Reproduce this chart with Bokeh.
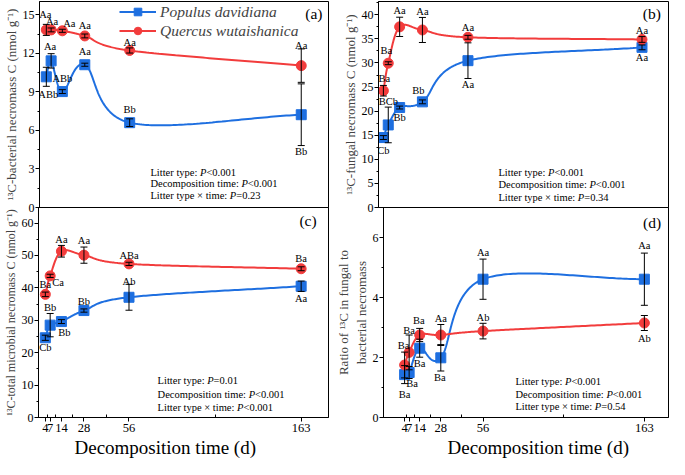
import numpy as np
from bokeh.plotting import figure
from bokeh.layouts import row, column
from bokeh.models import (Range1d, FixedTicker, SingleIntervalTicker, Whisker, TeeHead,
                          ColumnDataSource, Label, Legend, LegendItem, Title)
from bokeh.core.properties import value
from bokeh.embed import file_html
from bokeh.resources import INLINE

# ---------------- data ----------------
days = [4, 7, 14, 28, 56, 163]
tick_labels = ["4", "7", "14", "28", "56", "163"]
minor_days = [5.5, 10.5, 21, 42, 109.5]
series_names = ["Populus davidiana", "Quercus wutaishanica"]

# (a) 13C-bacterial necromass C
bact_pd = [10.17, 11.41, 9.02, 11.11, 6.60, 7.22]
bact_pd_se = [0.74, 0.56, 0.15, 0.12, 0.30, 2.40]
bact_qw = [13.82, 13.82, 13.75, 13.35, 12.22, 11.04]
bact_qw_se = [0.43, 0.15, 0.12, 0.15, 0.20, 1.30]
bact_pd_sig = ["ABb", "Aa", "ABb", "Aa", "Bb", "Bb"]
bact_qw_sig = ["Aa", "Aa", "Aa", "Aa", "Aa", "Aa"]
bact_stats = ["<0.001", "<0.001", "=0.23"]

# (b) 13C-fungal necromass C
fung_pd = [14.52, 17.14, 20.75, 21.93, 30.48, 33.24]
fung_pd_se = [0.40, 3.70, 0.30, 0.40, 3.70, 0.50]
fung_qw = [24.24, 29.95, 37.50, 36.85, 35.33, 34.88]
fung_qw_se = [1.10, 0.30, 2.00, 2.60, 0.40, 0.60]
fung_pd_sig = ["Cb", "BCb", "Bb", "Bb", "Aa", "Aa"]
fung_qw_sig = ["Ba", "Ba", "Aa", "Aa", "Aa", "Aa"]
fung_stats = ["<0.001", "<0.001", "=0.34"]

# (c) 13C-total microbial necromass C
tot_pd = [24.6, 28.5, 29.6, 33.0, 37.1, 40.5]
tot_pd_se = [0.8, 3.6, 0.6, 0.5, 4.0, 1.6]
tot_qw = [38.0, 43.7, 51.3, 50.1, 47.4, 45.9]
tot_qw_se = [0.7, 0.5, 1.8, 2.5, 0.5, 0.6]
tot_pd_sig = ["Cb", "Bb", "Bb", "Bb", "Ab", "Aa"]
tot_qw_sig = ["Ba", "Ca", "Aa", "Aa", "ABa", "Ba"]
tot_stats = ["=0.01", "<0.001", "<0.001"]

# (d) ratio fungal : bacterial
ratio_pd = [1.43, 1.50, 2.31, 1.99, 4.61, 4.61]
ratio_pd_se = [0.30, 0.20, 0.30, 0.44, 0.67, 0.87]
ratio_qw = [1.75, 2.17, 2.75, 2.75, 2.88, 3.15]
ratio_qw_se = [0.43, 0.58, 0.22, 0.35, 0.26, 0.25]
ratio_pd_sig = ["Ba", "Ba", "Ba", "Ba", "Aa", "Aa"]
ratio_qw_sig = ["Ba", "Ba", "Ba", "Aa", "Ab", "Ab"]
ratio_stats = ["<0.001", "<0.001", "=0.54"]

stat_names = ["Litter type: ", "Decomposition time: ", "Litter type \u00d7 time: "]

# ---------------- style / layout ----------------
FONT = "Liberation Serif"
BLUE = "#1e6fe0"
RED = "#f23c3c"

# label offsets (px, reference scale) for significance letters
OFF = {
    "a": ([(2, 19), (-1, -15), (0, -14), (0, -14), (0, -14), (0, 38.5)],
          [(-1, -16), (1, -9), (7, -8), (0, -11), (0, -8), (0, -21.5)]),
    "b": ([(0, 13.4), (0, -25), (0, 10), (-4, -11.7), (0, 25), (0, 11)],
          [(1, -13), (-2, -13), (0, -17), (0, -19), (0, -10.4), (0, -9.3)]),
    "c": ([(0, 9.7), (0, -18), (3, 11.3), (0, -9), (0, -16.3), (0, 12.3)],
          [(0, -10), (8, 7), (0, -11.7), (0, -14.7), (0, -9), (0, -11)]),
    "d": ([(0, 20), (3, 11.7), (0, 16), (-1, 20), (0, -27), (0, -35)],
          [(-1, -20), (0, -23), (-1, -15), (0, -17), (0, -14), (0, 16)]),
}

WID = {" ": 250, ":": 278, "<": 564, "=": 564, ".": 250, "\u00d7": 564,
       "L": 611, "D": 722, "i": 278, "t": 278, "e": 444, "r": 333, "y": 500,
       "p": 500, "c": 444, "o": 500, "m": 778, "s": 389, "n": 500}


def text_w(s, size):
    return sum(WID.get(ch, 500) for ch in s) * size / 1000.0


def catmull_rom(xs_px, ys_px, per=60):
    P = np.column_stack([xs_px, ys_px]).astype(float)
    n = len(P)
    M = np.zeros_like(P)
    M[0] = P[1] - P[0]
    M[-1] = P[-1] - P[-2]
    for i in range(1, n - 1):
        M[i] = (P[i + 1] - P[i - 1]) / 2.0
    out = []
    for i in range(n - 1):
        t = np.linspace(0, 1, per, endpoint=(i == n - 2))[:, None]
        h00 = 2 * t ** 3 - 3 * t ** 2 + 1
        h10 = t ** 3 - 2 * t ** 2 + t
        h01 = -2 * t ** 3 + 3 * t ** 2
        h11 = t ** 3 - t ** 2
        out.append(h00 * P[i] + h10 * M[i] + h01 * P[i + 1] + h11 * M[i + 1])
    out = np.vstack(out)
    return out[:, 0], out[:, 1]


def make_panel(key, pd, pd_se, qw, qw_se, pd_sig, qw_sig, stats, ytitle, ytitle_size,
               width, height, mbl, mbr, mbt, mbb, xr, yr, ytick, ref_frame, bottom,
               stat_pos, letter_pos, xtitle_offset=0, legend=False):
    p = figure(width=width, height=height, output_backend="svg", toolbar_location=None,
               x_range=Range1d(*xr), y_range=Range1d(*yr),
               min_border_left=mbl, min_border_right=mbr, min_border_top=mbt,
               min_border_bottom=mbb, background_fill_color="white",
               border_fill_color="white")
    if bottom:
        # transparent so the "0" label of the panel above stays visible
        p.background_fill_alpha = 0
        p.border_fill_alpha = 0
    p.outline_line_color = "black"
    p.outline_line_width = 1
    p.xgrid.visible = False
    p.ygrid.visible = False

    frame_w = width - mbl - mbr
    frame_h = height - mbt - mbb
    L, R, T, B = ref_frame
    sx = frame_w / (R - L)
    sy = frame_h / (B - T)
    ppx = frame_w / (xr[1] - xr[0])
    ppy = frame_h / (yr[1] - yr[0])

    def at(px, py):
        fx = (px - L) / (R - L)
        fy = (py - T) / (B - T)
        return xr[0] + fx * (xr[1] - xr[0]), yr[1] - fy * (yr[1] - yr[0])

    # y axis
    ya = p.yaxis[0]
    ya.ticker = SingleIntervalTicker(interval=ytick, num_minor_ticks=2)
    ya.axis_label = ytitle
    ya.axis_label_text_font = FONT
    ya.axis_label_text_font_size = ytitle_size
    ya.axis_label_text_font_style = "normal"
    ya.axis_label_standoff = 1
    ya.major_label_text_font = FONT
    ya.major_label_text_font_size = "12px"
    ya.major_label_standoff = 1
    ya.major_tick_out = 4
    ya.major_tick_in = 0
    ya.minor_tick_out = 2
    ya.minor_tick_in = 0
    ya.axis_line_color = "black"
    ya.major_tick_line_color = "black"
    ya.minor_tick_line_color = "black"
    ya.major_label_text_color = "black"

    xa = p.xaxis[0]
    if bottom:
        xa.ticker = FixedTicker(ticks=days, minor_ticks=minor_days)
        xa.major_label_overrides = {d: t for d, t in zip(days, tick_labels)}
        xa.major_label_text_font = FONT
        xa.major_label_text_font_size = "12.5px"
        xa.major_label_text_color = "black"
        xa.major_label_standoff = 2
        xa.major_tick_out = 4
        xa.major_tick_in = 0
        xa.minor_tick_out = 0
        xa.minor_tick_in = 3
        xa.axis_line_color = "black"
        xa.major_tick_line_color = "black"
        xa.minor_tick_line_color = "black"
        p.add_layout(Title(text="Decomposition time (d)", align="left",
                           offset=xtitle_offset, text_font=FONT, text_font_size="19px",
                           text_font_style="normal", text_color="black", standoff=0),
                     "below")
    else:
        xa.visible = False

    rend = {}
    for name, vals, se, sig, color, marker, offs in (
            (series_names[0], pd, pd_se, pd_sig, BLUE, "square", OFF[key][0]),
            (series_names[1], qw, qw_se, qw_sig, RED, "circle", OFF[key][1])):
        # smooth connecting curve computed in screen-proportional space
        cx, cy = catmull_rom([(d - xr[0]) * ppx for d in days],
                             [(v - yr[0]) * ppy for v in vals])
        xs = xr[0] + cx / ppx
        ys = yr[0] + cy / ppy
        ln = p.line(xs, ys, line_color=color, line_width=2)
        sc = p.scatter(days, vals, marker=marker, size=10, fill_color=color,
                       line_color=color)
        rend[name] = [ln, sc]
        src = ColumnDataSource(dict(x=days,
                                    upper=[v + e for v, e in zip(vals, se)],
                                    lower=[v - e for v, e in zip(vals, se)]))
        wh = Whisker(base="x", upper="upper", lower="lower", source=src,
                     line_color="black", line_width=1, level="annotation",
                     upper_head=TeeHead(size=7, line_color="black", line_width=1),
                     lower_head=TeeHead(size=7, line_color="black", line_width=1))
        p.add_layout(wh)
        lsrc = ColumnDataSource(dict(x=days, y=vals, t=sig,
                                     dx=[o[0] * sx for o in offs],
                                     dy=[o[1] * sy for o in offs]))
        p.text(x="x", y="y", text="t", x_offset="dx", y_offset="dy", source=lsrc,
               text_font=value(FONT), text_font_size=value("10.5px"),
               text_align="center", text_baseline="middle", text_color="black")

    # statistics text
    fs = 10.5
    sx0, _ = at(stat_pos[0], stat_pos[1][0])
    for nm, val, py in zip(stat_names, stats, stat_pos[1]):
        _, yy = at(stat_pos[0], py)
        w1 = text_w(nm, fs)
        wp = 611 * fs / 1000.0
        for txt, off, style in ((nm, 0, "normal"), ("P", w1, "italic"), (val, w1 + wp, "normal")):
            p.add_layout(Label(x=sx0, y=yy, x_offset=off, text=txt, text_font=FONT,
                               text_font_size="%spx" % fs, text_font_style=style,
                               text_align="left", text_baseline="middle",
                               text_color="black"))

    # panel letter
    lx, ly = at(*letter_pos)
    p.add_layout(Label(x=lx, y=ly, text="(%s)" % key, text_font=FONT,
                       text_font_size="15.5px", text_align="center",
                       text_baseline="middle", text_color="black"))

    if legend:
        items = [LegendItem(label=n, renderers=rend[n]) for n in series_names]
        lg = Legend(items=items, location=(int(82 * sx), frame_h - 39),
                    label_text_font=FONT, label_text_font_size="15.5px",
                    label_text_font_style="italic", label_height=19,
                    glyph_height=19, glyph_width=37, spacing=0, padding=0, margin=0,
                    label_standoff=4, border_line_alpha=0, background_fill_alpha=0)
        p.add_layout(lg)
    return p


LW, RW = 332, 337
OVER = 6            # top panels keep 6 px below the frame for the "0" label
TH, BH = 207 + OVER, 252

pa = make_panel("a", bact_pd, bact_pd_se, bact_qw, bact_qw_se, bact_pd_sig, bact_qw_sig,
                bact_stats, "\u00b9\u00b3C-bacterial necromass C (nmol g\u207b\u00b9)", "13px",
                LW, TH, 35, 4, 1, OVER, (-0.25, 180), (0, 16.03), 3,
                (36, 333, 0, 217), False, (150, (180, 192, 204)), (318, 13), legend=True)
pb = make_panel("b", fung_pd, fung_pd_se, fung_qw, fung_qw_se, fung_pd_sig, fung_qw_sig,
                fung_stats, "\u00b9\u00b3C-fungal necromass C (nmol g\u207b\u00b9)", "13px",
                RW, TH, 46, 1, 1, OVER, (1, 179.3), (0, 42.76), 5,
                (388, 683, 0, 217), False, (510, (180, 193, 206)), (666, 13))
pc = make_panel("c", tot_pd, tot_pd_se, tot_qw, tot_qw_se, tot_pd_sig, tot_qw_sig,
                tot_stats, "\u00b9\u00b3C-total microbial necromass C (nmol g\u207b\u00b9)", "12px",
                LW, BH, 35, 4, 0, 42, (-0.25, 180), (0, 64.8), 10,
                (36, 333, 217, 432), True, (158, (394, 408, 422)), (312, 230),
                xtitle_offset=36)
pd_ = make_panel("d", ratio_pd, ratio_pd_se, ratio_qw, ratio_qw_se, ratio_pd_sig, ratio_qw_sig,
                 ratio_stats, "Ratio of \u00b9\u00b3C in fungal to\nbacterial necromass", "13px",
                 RW, BH, 46, 1, 0, 42, (-10, 179), (0, 7.0), 2,
                 (387, 683, 217, 433), True, (524, (396, 409, 422)), (666, 232),
                 xtitle_offset=64)

layout = column(row(pa, pb), row(pc, pd_, margin=(-OVER, 0, 0, 0)))
open("out.html", "w").write(file_html(layout, INLINE))
